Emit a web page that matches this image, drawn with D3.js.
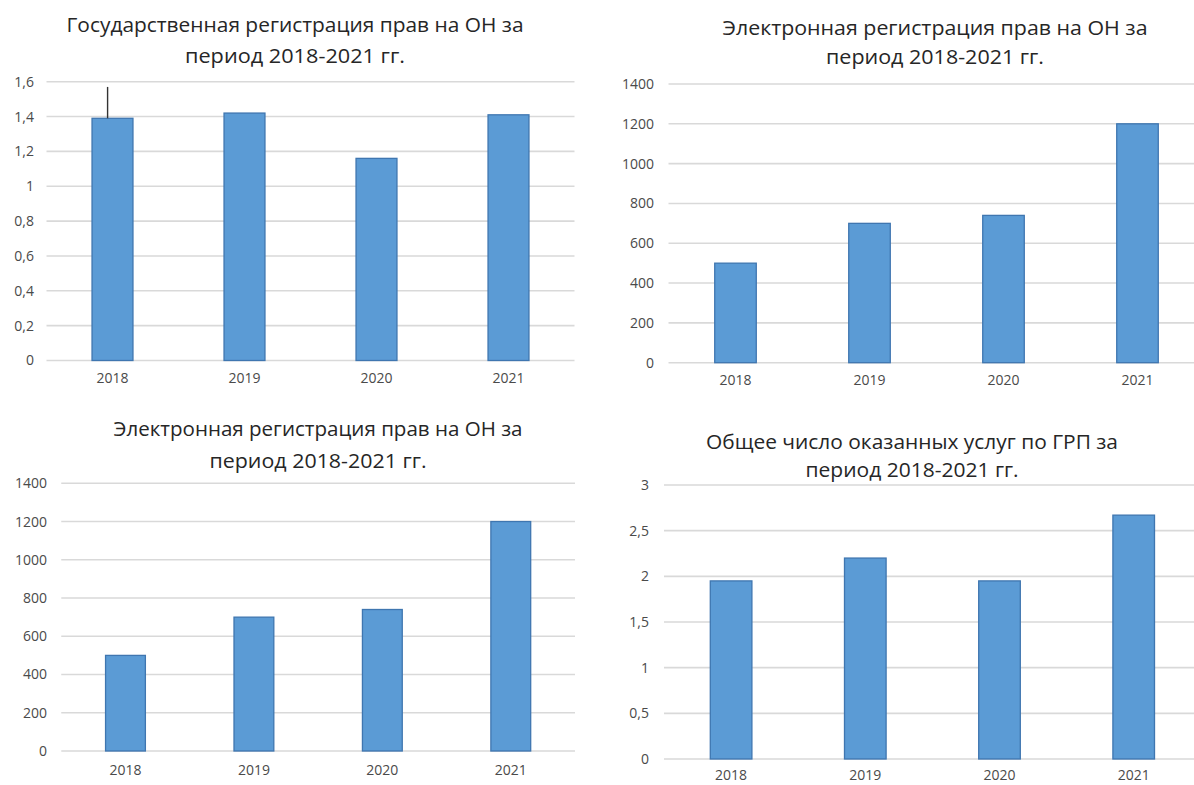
<!DOCTYPE html>
<html>
<head>
<meta charset="utf-8">
<script src="https://cdn.jsdelivr.net/npm/d3@7"></script>
<style>
  html, body { margin: 0; padding: 0; background: #fff; }
  svg { display: block; }
  text { font-family: Carlito, "Open Sans", "Noto Sans", sans-serif; }
</style>
</head>
<body>
<svg id="chart" width="1194" height="785"></svg>
<script>
// ---- Data ----
const years = ["2018", "2019", "2020", "2021"];

const stateRegTitle = ["Государственная регистрация прав на ОН за", "период 2018-2021 гг."];
const stateRegValues = [1.39, 1.42, 1.16, 1.41];
const stateRegTicks = [0, 0.2, 0.4, 0.6, 0.8, 1, 1.2, 1.4, 1.6];
const stateRegMarkLine = [1.39, 1.57]; // thin vertical line above 2018 bar

const eRegTitle = ["Электронная регистрация прав на ОН за", "период 2018-2021 гг."];
const eRegValues = [500, 700, 740, 1200];
const eRegTicks = [0, 200, 400, 600, 800, 1000, 1200, 1400];

const servicesTitle = ["Общее число оказанных услуг по ГРП за", "период 2018-2021 гг."];
const servicesValues = [1.95, 2.2, 1.95, 2.67];
const servicesTicks = [0, 0.5, 1, 1.5, 2, 2.5, 3];

// ---- Drawing ----
const svg = d3.select("#chart");
const fmt = v => String(v).replace(".", ",");
const tickFont = '"Open Sans", "Noto Sans", sans-serif';

function drawPanel(cfg) {
  const g = svg.append("g");
  const x = d3.scaleBand().domain(years).range([cfg.left, cfg.right])
    .paddingInner(0.69).paddingOuter(0.345);
  const y = d3.scaleLinear().domain([0, cfg.max]).range([cfg.y0, cfg.yTop]);

  // gridlines
  g.selectAll("line.grid").data(cfg.ticks).join("line")
    .attr("x1", cfg.left).attr("x2", Math.min(cfg.right, 1194))
    .attr("y1", d => y(d)).attr("y2", d => y(d))
    .attr("stroke", "#d9d9d9").attr("stroke-width", 1.6);

  // y axis labels
  const yAxis = d3.axisLeft(y).tickValues(cfg.ticks).tickFormat(fmt).tickSize(0).tickPadding(0);
  const ya = g.append("g").attr("transform", `translate(${cfg.labelRight},0)`).call(yAxis);
  ya.select(".domain").remove();
  ya.selectAll("text").attr("fill", "#4a4a4a").style("font-size", "14px")
    .style("font-family", tickFont);

  // x axis labels
  const xAxis = d3.axisBottom(x).tickSize(0).tickPadding(0);
  const xa = g.append("g").attr("transform", `translate(0,${cfg.catY - 8})`).call(xAxis);
  xa.select(".domain").remove();
  xa.selectAll("text").attr("fill", "#4a4a4a").style("font-size", "14px")
    .style("font-family", tickFont);

  // bars
  g.selectAll("rect.bar").data(cfg.values).join("rect")
    .attr("x", (d, i) => x(years[i]))
    .attr("y", d => y(d))
    .attr("width", x.bandwidth())
    .attr("height", d => y(0) - y(d))
    .attr("fill", "#5b9bd5")
    .attr("stroke", "#3f76b0").attr("stroke-width", 1.3);

  // title
  g.selectAll("text.title").data(cfg.title).join("text")
    .attr("x", cfg.titleX)
    .attr("y", (d, i) => cfg.titleY[i])
    .attr("text-anchor", "middle")
    .attr("dominant-baseline", "middle")
    .attr("fill", "#262626")
    .style("font-size", "20px")
    .style("font-family", '"Open Sans", "Noto Sans", sans-serif')
    .attr("textLength", (d, i) => cfg.titleW[i])
    .attr("lengthAdjust", "spacingAndGlyphs")
    .text(d => d);

  return { x, y, g };
}

const p1 = drawPanel({
  left: 46.5, right: 574.5, y0: 360.5, yTop: 81.7, max: 1.6,
  ticks: stateRegTicks, values: stateRegValues, labelRight: 34, catY: 381,
  title: stateRegTitle, titleX: 295, titleY: [27, 58], titleW: [457, 220]
});
// thin line above first bar
p1.g.append("line")
  .attr("x1", p1.x(years[0]) + p1.x.bandwidth() * 0.38)
  .attr("x2", p1.x(years[0]) + p1.x.bandwidth() * 0.38)
  .attr("y1", p1.y(stateRegMarkLine[0])).attr("y2", p1.y(stateRegMarkLine[1]))
  .attr("stroke", "#333").attr("stroke-width", 1.4);

drawPanel({
  left: 668.5, right: 1204.5, y0: 362.7, yTop: 84, max: 1400,
  ticks: eRegTicks, values: eRegValues, labelRight: 654, catY: 383,
  title: eRegTitle, titleX: 935, titleY: [30, 59], titleW: [425, 218]
});

drawPanel({
  left: 61.25, right: 575, y0: 751, yTop: 483.3, max: 1400,
  ticks: eRegTicks, values: eRegValues, labelRight: 47, catY: 773,
  title: eRegTitle, titleX: 318, titleY: [431, 463], titleW: [409, 217]
});

drawPanel({
  left: 664, right: 1200.8, y0: 759, yTop: 485, max: 3,
  ticks: servicesTicks, values: servicesValues, labelRight: 649, catY: 778,
  title: servicesTitle, titleX: 912, titleY: [444, 472], titleW: [412, 213]
});
</script>
</body>
</html>
